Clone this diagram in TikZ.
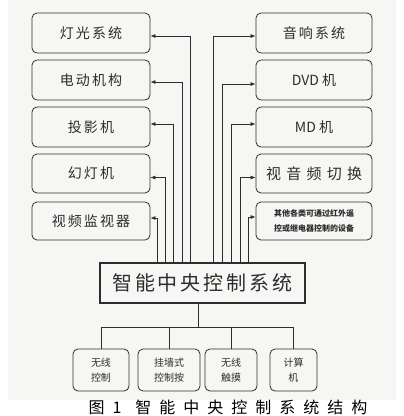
\documentclass[tikz,border=0pt]{standalone}
\usepackage{fontspec}
\newfontfamily\cjk[LetterSpace=15]{Noto Sans CJK SC}
\newfontfamily\cjkwide[LetterSpace=35]{Noto Sans CJK SC}
\newfontfamily\cjkcap[LetterSpace=50]{Noto Sans CJK SC}
\newfontfamily\cjkplain{Noto Sans CJK SC}
\usetikzlibrary{arrows.meta}
\definecolor{paper}{RGB}{246,246,244}
\definecolor{ink}{RGB}{45,45,45}
\begin{document}
\begin{tikzpicture}[x=1pt,y=-1pt,
  box/.style={draw=ink, line width=0.8pt, rounded corners=5pt, inner sep=0pt,
    minimum height=40pt, font=\cjk\fontsize{14}{16}\selectfont, text=ink},
  lbox/.style={box, minimum width=118pt},
  rbox/.style={box, minimum width=116pt},
  sbox/.style={draw=ink, line width=0.8pt, rounded corners=5pt, inner sep=0pt,
    minimum height=42pt, align=center, font=\cjkplain\fontsize{10}{15}\selectfont, text=ink},
  arr/.style={draw=ink, line width=0.7pt, -{Latex[length=5pt,width=4pt]}},
  ln/.style={draw=ink, line width=0.8pt}]
\useasboundingbox (0,0) rectangle (404,416);
\fill[paper] (8,0) rectangle (396,400);

% left column
\node[lbox] (L1) at (91,33) {灯光系统};
\node[lbox] (L2) at (91,80) {电动机构};
\node[lbox] (L3) at (91,127) {投影机};
\node[lbox, minimum height=39pt] (L4) at (91,173.5) {幻灯机};
\node[lbox, minimum height=38pt] (L5) at (91,221) {视频监视器};

% right column
\node[rbox] (R1) at (314,33) {音响系统};
\node[rbox, font=\cjkplain\fontsize{14}{16}\selectfont] (R2) at (314,80) {DVD 机};
\node[rbox, font=\cjkplain\fontsize{14}{16}\selectfont] (R3) at (314,127) {MD 机};
\node[rbox, minimum height=39pt, font=\cjkwide\fontsize{15}{17}\selectfont] (R4) at (314,173.5) {视音频切换};
\node[rbox, minimum height=38pt, align=center, font=\cjkplain\bfseries\fontsize{8}{15}\selectfont] (R5) at (314,221) {其他各类可通过红外遥\\控或继电器控制的设备};

% central
\node[draw=ink, line width=1.2pt, minimum width=205pt, minimum height=40pt, inner sep=0pt,
  font=\cjk\fontsize{20}{22}\selectfont, text=ink] (C) at (202.5,283) {智能中央控制系统};

% bottom boxes
\node[sbox, minimum width=56pt] (B1) at (101,370) {无线\\控制};
\node[sbox, minimum width=62pt] (B2) at (169,370) {挂墙式\\控制按};
\node[sbox, minimum width=52pt] (B3) at (231,370) {无线\\触摸};
\node[sbox, minimum width=47pt] (B4) at (293.5,370) {计算\\机};

% left connectors
\coordinate (cl1) at (190,263);
\coordinate (cl2) at (182,263);
\coordinate (cl3) at (173,263);
\coordinate (cl4) at (165,263);
\coordinate (cl5) at (157,263);
\draw[arr] (cl1) |- ([yshift=-3pt]L1.east);
\draw[arr] (cl2) |- ([yshift=-2pt]L2.east);
\draw[arr] (cl3) |- ([yshift=3pt]L3.east);
\draw[arr] (cl4) |- ([yshift=-4pt]L4.east);
\draw[arr] (cl5) |- ([yshift=3pt]L5.east);

% right connectors
\coordinate (cr1) at (213,263);
\coordinate (cr2) at (222,263);
\coordinate (cr3) at (231,263);
\coordinate (cr4) at (240,263);
\coordinate (cr5) at (248,263);
\draw[arr] (cr1) |- ([yshift=-3pt]R1.west);
\draw[arr] (cr2) |- ([yshift=-4pt]R2.west);
\draw[arr] (cr3) |- ([yshift=3pt]R3.west);
\draw[arr] (cr4) |- ([yshift=-4pt]R4.west);
\draw[arr] (cr5) |- ([yshift=4pt]R5.west);

% bottom tree
\coordinate (cb) at (198,303);
\coordinate (j) at (198,327);
\draw[ln] (cb) -- (j);
\draw[ln] (j -| B1.north) -- (j -| B4.north);
\draw[ln] (j -| B1.north) -- (B1.north);
\draw[ln] (j -| B2.north) -- (B2.north);
\draw[ln] (j -| B3.north) -- (B3.north);
\draw[ln] (j -| B4.north) -- (B4.north);

% caption
\node[font=\cjkcap\fontsize{16}{18}\selectfont, text=black, anchor=west] (cap) at (85,407) {图1\hspace{14pt}智能中央控制系统结构};
\end{tikzpicture}
\end{document}
